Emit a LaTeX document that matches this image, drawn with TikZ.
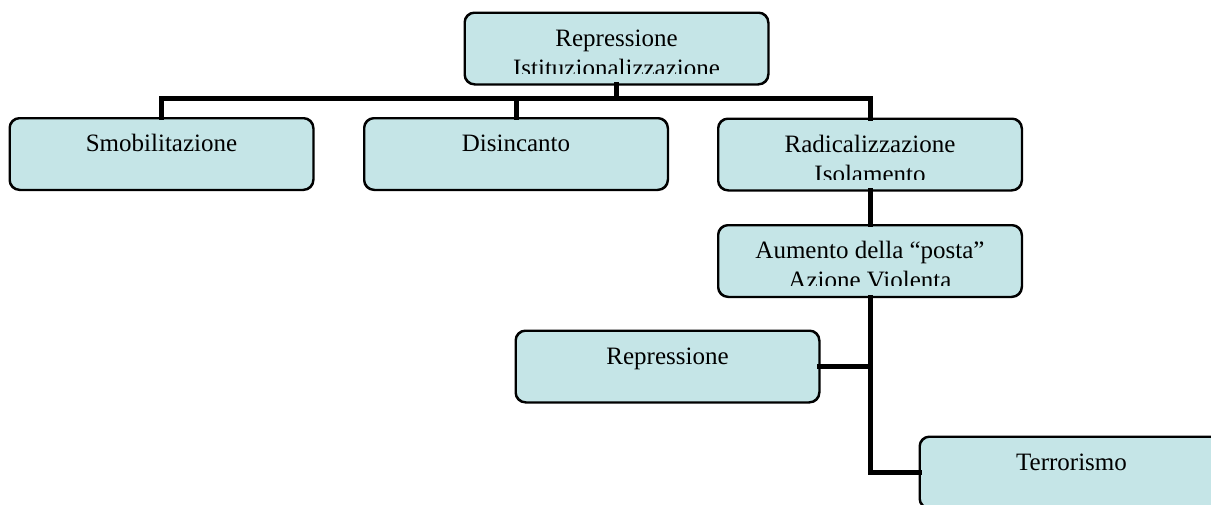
\documentclass[tikz,border=0pt]{standalone}
\usepackage{fontspec}
\setmainfont{Liberation Serif}
\definecolor{boxfill}{RGB}{197,229,231}
\tikzset{
  x=1pt,y=-1pt,
  boxnode/.style={draw=black,line width=1.5pt,fill=boxfill,rounded corners=10pt,
    minimum width=303pt,minimum height=71pt,inner sep=0pt},
  lbl/.style={anchor=base,inner sep=0pt,font=\fontsize{25}{29}\selectfont},
  conn/.style={line width=5pt,line join=miter,line cap=rect}
}
\newcommand{\boxtext}[3]{% name, first text, second text
  \begin{scope}
    \clip ([xshift=3pt,yshift=-3pt]#1.north west) rectangle ([yshift=-61pt]#1.north -| #1.east);
    \node[lbl] (#1-a) at ([yshift=-34pt]#1.north) {#2};
    \node[lbl] (#1-b) at ([yshift=-64pt]#1.north) {#3};
  \end{scope}}
\begin{document}
\begin{tikzpicture}
\useasboundingbox (0,0) rectangle (1211,504);
\coordinate (busL) at (161.5,98);
\coordinate (busR) at (870,98);
\node[boxnode] (top) at (616.5,48.5) {};
\node[boxnode] (smob) at (161.5,154) {};
\node[boxnode] (dis) at (516,154) {};
\node[boxnode] (rad) at (870,154.5) {};
\node[boxnode] (aum) at (870,261) {};
\node[boxnode] (rep) at (667.5,366.5) {};
\node[boxnode] (terr) at (1071.5,472.5) {};
\draw[conn] (top.south) -- (top.south |- busL);
\draw[conn] (smob.north) |- (busR) -- (rad.north);
\draw[conn] (dis.north) -- (dis.north |- busL);
\draw[conn] (rad.south) -- (aum.north);
\draw[conn] (aum.south) |- (terr.west);
\draw[conn] (rep.east) -- (rep.east -| aum.south);
\foreach \n in {top,smob,dis,rad,aum,rep,terr}{
  \draw[line width=1.5pt,rounded corners=10pt] (\n.north west) rectangle (\n.south east);
}
\boxtext{top}{Repressione}{Istituzionalizzazione}
\boxtext{smob}{Smobilitazione}{}
\boxtext{dis}{Disincanto}{}
\boxtext{rad}{Radicalizzazione}{Isolamento}
\boxtext{aum}{Aumento della “posta”}{Azione Violenta}
\boxtext{rep}{Repressione}{}
\boxtext{terr}{Terrorismo}{}
\end{tikzpicture}
\end{document}
